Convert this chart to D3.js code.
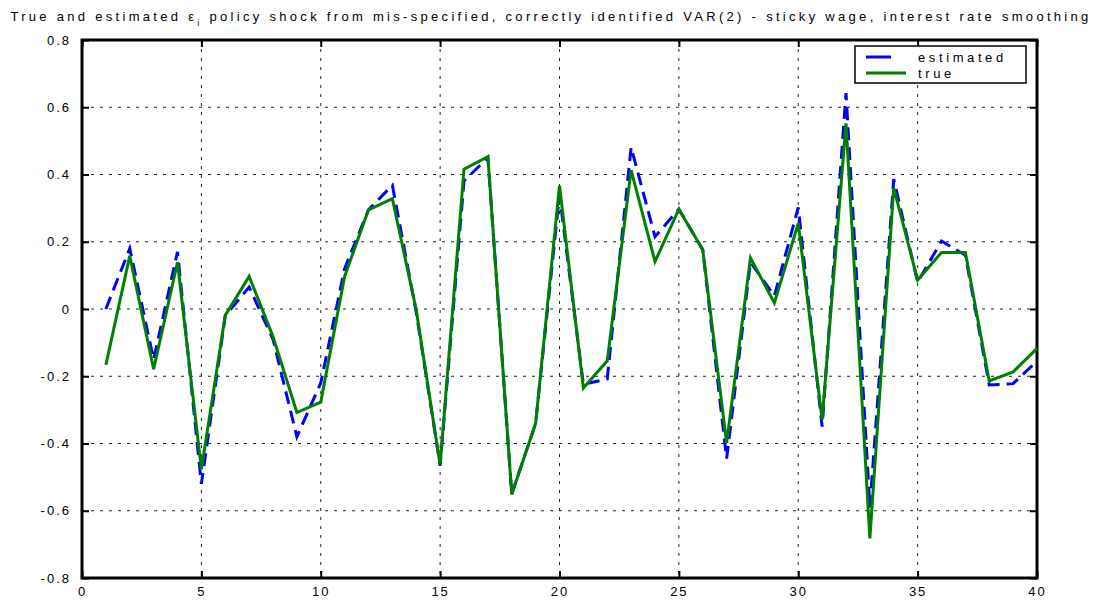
<!DOCTYPE html>
<html>
<head>
<meta charset="utf-8">
<script src="https://cdn.jsdelivr.net/npm/d3@7/dist/d3.min.js"></script>
<style>
	body { margin: 0; background: #fff; }
	text { font-family: "Liberation Sans", Arial, sans-serif; }
</style>
</head>
<body>
<svg id="chart" width="1095" height="602"></svg>
<script>

	// periods 1..40
	var periods = d3.range(1, 41);

	var estimated = [0.00, 0.18, -0.15, 0.17, -0.52, -0.02, 0.065, -0.09, -0.38, -0.22,
		0.12, 0.295, 0.368, -0.01, -0.466, 0.381, 0.45, -0.55, -0.34, 0.34,
		-0.224, -0.208, 0.481, 0.215, 0.297, 0.176, -0.445, 0.139, 0.039, 0.302,
		-0.35, 0.642, -0.59, 0.386, 0.08, 0.202, 0.16, -0.226, -0.222, -0.155];

	var truth = [-0.166, 0.158, -0.179, 0.139, -0.477, -0.019, 0.097, -0.082, -0.308, -0.277,
		0.097, 0.295, 0.328, -0.003, -0.463, 0.416, 0.453, -0.551, -0.34, 0.367,
		-0.235, -0.154, 0.413, 0.141, 0.297, 0.176, -0.398, 0.152, 0.018, 0.255,
		-0.329, 0.552, -0.682, 0.36, 0.086, 0.168, 0.168, -0.214, -0.187, -0.117];

	var xTicks = [0, 5, 10, 15, 20, 25, 30, 35, 40];
	var yTicks = [-0.8, -0.6, -0.4, -0.2, 0, 0.2, 0.4, 0.6, 0.8];

	var svg = d3.select("#chart");
	var pLeft = 82, pRight = 1037, pTop = 40, pBottom = 578;

	var x = d3.scaleLinear().domain([0, 40]).range([pLeft, pRight]);
	var y = d3.scaleLinear().domain([-0.8, 0.8]).range([pBottom, pTop]);

	// grid
	var grid = svg.append("g");
	grid.selectAll("line.gx").data(xTicks.slice(1, -1)).enter().append("line")
		.attr("x1", function(d) { return x(d); })
		.attr("x2", function(d) { return x(d); })
		.attr("y1", pTop).attr("y2", pBottom)
		.attr("stroke", "#222").attr("stroke-width", 1)
		.attr("stroke-dasharray", "3,6");
	grid.selectAll("line.gy").data(yTicks.slice(1, -1)).enter().append("line")
		.attr("y1", function(d) { return y(d); })
		.attr("y2", function(d) { return y(d); })
		.attr("x1", pLeft).attr("x2", pRight)
		.attr("stroke", "#222").attr("stroke-width", 1)
		.attr("stroke-dasharray", "3,6");

	// axes, ticks inward
	var fmt = function(d) { return d === 0 ? "0" : d.toFixed(1); };
	svg.append("g").attr("transform", "translate(0," + pBottom + ")")
		.call(d3.axisBottom(x).tickValues(xTicks).tickSizeInner(-7).tickSizeOuter(0).tickPadding(9));
	svg.append("g").attr("transform", "translate(0," + pTop + ")")
		.call(d3.axisTop(x).tickValues(xTicks).tickSizeInner(-7).tickSizeOuter(0).tickFormat(""));
	svg.append("g").attr("transform", "translate(" + pLeft + ",0)")
		.call(d3.axisLeft(y).tickValues(yTicks).tickSizeInner(-7).tickSizeOuter(0).tickPadding(11).tickFormat(fmt));
	svg.append("g").attr("transform", "translate(" + pRight + ",0)")
		.call(d3.axisRight(y).tickValues(yTicks).tickSizeInner(-7).tickSizeOuter(0).tickFormat(""));

	svg.selectAll(".domain").remove();
	svg.selectAll(".tick line").attr("stroke", "#000").attr("stroke-width", 2);
	svg.selectAll(".tick text").attr("font-size", 13).attr("fill", "#000")
		.style("font-family", "Liberation Sans, Arial, sans-serif")
		.attr("letter-spacing", 2);

	svg.append("rect")
		.attr("x", pLeft).attr("y", pTop)
		.attr("width", pRight - pLeft).attr("height", pBottom - pTop)
		.attr("fill", "none").attr("stroke", "#000").attr("stroke-width", 3);

	// series
	var line = d3.line()
		.x(function(d, i) { return x(periods[i]); })
		.y(function(d) { return y(d); });

	svg.append("path").datum(estimated)
		.attr("d", line)
		.attr("fill", "none").attr("stroke", "#0000ff").attr("stroke-width", 3)
		.attr("stroke-dasharray", "13,7");

	svg.append("path").datum(truth)
		.attr("d", line)
		.attr("fill", "none").attr("stroke", "#008000").attr("stroke-width", 3);

	// legend
	var lg = svg.append("g");
	lg.append("rect").attr("x", 855).attr("y", 46).attr("width", 171).attr("height", 37)
		.attr("fill", "#fff").attr("stroke", "#000").attr("stroke-width", 1.5);
	lg.append("line").attr("x1", 866).attr("x2", 891).attr("y1", 57).attr("y2", 57)
		.attr("stroke", "#0000ff").attr("stroke-width", 3);
	lg.append("line").attr("x1", 866).attr("x2", 906).attr("y1", 73).attr("y2", 73)
		.attr("stroke", "#008000").attr("stroke-width", 3);
	lg.append("text").attr("x", 918).attr("y", 62).attr("font-size", 13)
		.attr("letter-spacing", 3.6).text("estimated");
	lg.append("text").attr("x", 918).attr("y", 78).attr("font-size", 13)
		.attr("letter-spacing", 3.6).text("true");

	// title
	var title = svg.append("text").attr("x", 551).attr("y", 21)
		.attr("text-anchor", "middle").attr("font-size", 13).attr("letter-spacing", 3.3);
	title.append("tspan").text("True and estimated ");
	title.append("tspan").text("ε");
	title.append("tspan").attr("font-size", 9).attr("dy", 5).text("i");
	title.append("tspan").attr("dy", -5).text(" policy shock from mis-specified, correctly identified VAR(2) - sticky wage, interest rate smoothing");

</script>
</body>
</html>
